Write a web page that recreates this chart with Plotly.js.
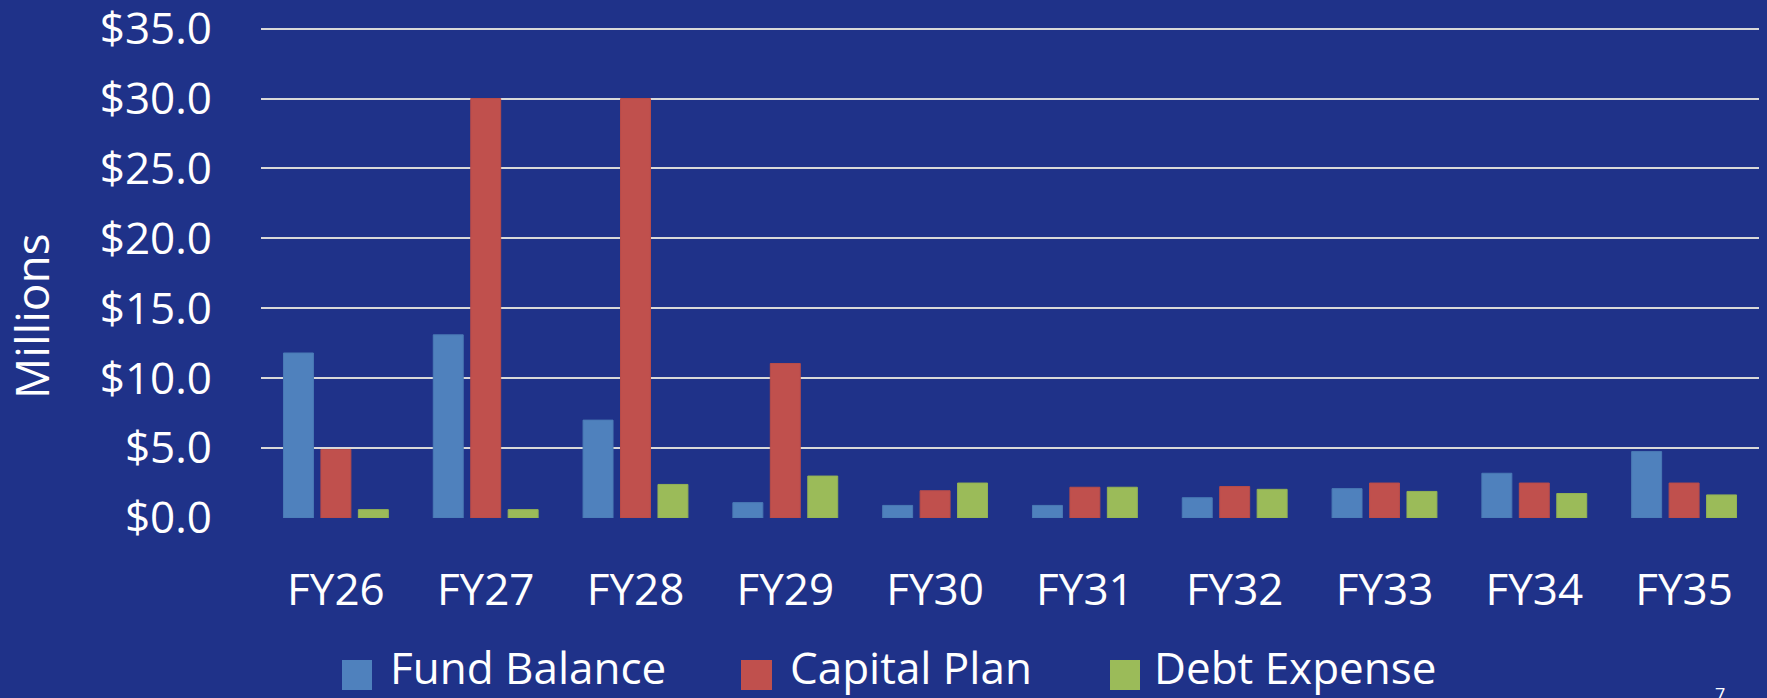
<!DOCTYPE html>
<html>
<head>
<meta charset="utf-8">
<script src="https://cdn.plot.ly/plotly-3.0.1.min.js"></script>
<style>
  html, body { margin: 0; padding: 0; background: #1F3289; }
  #chart { width: 1767px; height: 698px; }
</style>
</head>
<body>
<div id="chart"></div>
<script>
const categories = ["FY26", "FY27", "FY28", "FY29", "FY30", "FY31", "FY32", "FY33", "FY34", "FY35"];
const seriesNames = ["Fund Balance", "Capital Plan", "Debt Expense"];
const fundBalance = [11.8, 13.1, 7.0, 1.1, 0.9, 0.9, 1.45, 2.1, 3.2, 4.75];
const capitalPlan = [4.9, 30.0, 30.0, 11.05, 1.95, 2.2, 2.25, 2.5, 2.5, 2.5];
const debtExpense = [0.6, 0.6, 2.4, 3.0, 2.5, 2.2, 2.05, 1.9, 1.75, 1.65];
const yTickValues = [0, 5, 10, 15, 20, 25, 30, 35];
const yTickLabels = ["$0.0", "$5.0", "$10.0", "$15.0", "$20.0", "$25.0", "$30.0", "$35.0"];
const yAxisLabel = "Millions";
const pageNumber = "7";

const colors = ["#4F81BD", "#C0504D", "#9BBB59"];
const outlines = ["#4A7AB5", "#B84C49", "#93B255"];
const values = [fundBalance, capitalPlan, debtExpense];
const FONT = "Open Sans, Noto Sans, sans-serif";

const traces = values.map((v, i) => ({
  type: "bar",
  name: seriesNames[i],
  x: categories,
  y: v,
  marker: { color: colors[i], line: { color: outlines[i], width: 1 } },
  showlegend: false,
  hoverinfo: "x+y+name"
}));

// plot area in pixels (y range 0..35.4, so $35 sits at y≈29)
const yMax = 35.4;
const L = 261, R = 1759, B = 518;
const pxPerUnit = (518 - 29) / 35;
const T = Math.round(B - yMax * pxPerUnit);
const W = R - L, H = B - T;
const px = x => (x - L) / W;
const py = y => (B - y) / H;

// custom legend (large squares like the reference)
const legendSquares = [[342, 372], [741, 772], [1110, 1140]];
const legendTextX = [388, 788, 1152];
const shapes = legendSquares.map((s, i) => ({
  type: "rect", xref: "paper", yref: "paper",
  x0: px(s[0]), x1: px(s[1]), y0: py(690), y1: py(660),
  fillcolor: colors[i], line: { width: 0 }
}));
const annotations = seriesNames.map((n, i) => ({
  xref: "paper", yref: "paper",
  x: px(legendTextX[i]), y: py(667),
  xanchor: "left", yanchor: "middle",
  text: n, showarrow: false,
  font: { family: FONT, size: 44, color: "#FFFFFF" }
}));
annotations.push({
  xref: "paper", yref: "paper",
  x: px(31), y: py(316),
  xanchor: "center", yanchor: "middle",
  text: yAxisLabel, textangle: -90, showarrow: false,
  font: { family: FONT, size: 46, color: "#FFFFFF" }
});
annotations.push({
  xref: "paper", yref: "paper",
  x: px(1720), y: py(680),
  xanchor: "center", yanchor: "top",
  text: pageNumber, showarrow: false,
  font: { family: FONT, size: 18, color: "#FFFFFF" }
});

const layout = {
  width: 1767, height: 698,
  paper_bgcolor: "#1F3289",
  plot_bgcolor: "#1F3289",
  margin: { l: L, r: 1767 - R, t: T, b: 698 - B, pad: 0 },
  barmode: "group",
  bargap: 0.25,
  bargroupgap: 0.2,
  font: { family: FONT, color: "#FFFFFF" },
  xaxis: {
    type: "category",
    showgrid: false, zeroline: false, showline: false,
    ticks: "",
    tickfont: { family: FONT, size: 44, color: "#FFFFFF" },
    ticklabelstandoff: 42
  },
  yaxis: {
    range: [0, yMax],
    tickmode: "array",
    tickvals: yTickValues,
    ticktext: yTickLabels,
    ticklabeloverflow: "allow",
    showgrid: true, gridcolor: "#D9D9D9", gridwidth: 2,
    zeroline: false, showline: false,
    ticks: "",
    tickfont: { family: FONT, size: 44, color: "#FFFFFF" },
    ticklabelstandoff: 48
  },
  shapes: shapes,
  annotations: annotations,
  showlegend: false
};

Plotly.newPlot("chart", traces, layout, { displayModeBar: false, staticPlot: true });
</script>
</body>
</html>
